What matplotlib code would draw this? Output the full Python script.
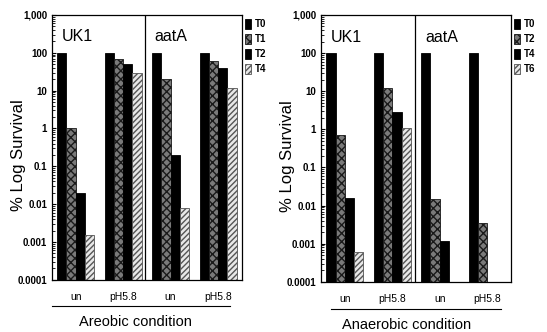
import numpy as np
import matplotlib.pyplot as plt
from matplotlib.lines import Line2D

plt.rcParams['font.family'] = ['Liberation Sans', 'DejaVu Sans']

groups = ['un', 'pH5.8', 'un', 'pH5.8']
strains = ['UK1', 'aatA']

# aerobic panel, times T0 T1 T2 T4
aer_labels = ['T0', 'T1', 'T2', 'T4']
aer_T0 = [100, 100, 100, 100]
aer_T1 = [1, 70, 20, 60]
aer_T2 = [0.02, 50, 0.2, 40]
aer_T4 = [0.0015, 30, 0.008, 12]

# anaerobic panel, times T0 T2 T4 T6 (nan = no bar)
ana_labels = ['T0', 'T2', 'T4', 'T6']
ana_T0 = [100, 100, 100, 100]
ana_T2 = [0.7, 12, 0.015, 0.0035]
ana_T4 = [0.016, 2.8, 0.0012, np.nan]
ana_T6 = [0.0006, 1.1, np.nan, np.nan]

yticks = [0.0001, 0.001, 0.01, 0.1, 1, 10, 100, 1000]
yticklabels = ['0.0001', '0.001', '0.01', '0.1', '1', '10', '100', '1,000']

styles = [
    dict(facecolor='black', edgecolor='black', hatch=None),
    dict(facecolor='#7a7a7a', edgecolor='#1a1a1a', hatch='xxxx'),
    dict(facecolor='black', edgecolor='black', hatch=None),
    dict(facecolor='#e8e8e8', edgecolor='#555555', hatch='//////'),
]

fig = plt.figure(figsize=(5.47, 3.32), dpi=100)
ax1 = fig.add_axes([0.095, 0.157, 0.347, 0.798])
ax2 = fig.add_axes([0.587, 0.151, 0.347, 0.804])


def panel(ax, series, labels, title, line_x, aat_x, title_x):
    x = np.arange(len(groups))
    w = 0.195
    handles = []
    for i, vals in enumerate(series):
        st = styles[i]
        vals = np.array(vals, dtype=float)
        heights = np.where(np.isnan(vals), 0, vals - 0.0001)
        b = ax.bar(x + (i - 1.5) * w, heights, w, bottom=0.0001,
                   facecolor=st['facecolor'], edgecolor=st['edgecolor'],
                   hatch=st['hatch'], linewidth=0.6)
        for r, v in zip(b, vals):
            if np.isnan(v):
                r.set_visible(False)
        handles.append(b)
    ax.set_yscale('log')
    ax.set_ylim(0.0001, 1000)
    ax.set_xlim(-0.5, 3.5)
    ax.set_yticks(yticks)
    ax.set_yticklabels(yticklabels, fontsize=7, fontweight='bold')
    ax.tick_params(axis='y', which='major', direction='in', length=3, width=0.8)
    ax.tick_params(axis='y', which='minor', direction='in', length=2, width=0.6)
    ax.set_xticks(x)
    ax.set_xticklabels(groups, fontsize=7.5)
    ax.tick_params(axis='x', length=0, pad=9)
    ax.axvline(1.47, color='black', linewidth=0.9)
    ax.text(0.05, 0.9, strains[0], transform=ax.transAxes, fontsize=11.5)
    ax.text(aat_x, 0.9, strains[1], transform=ax.transAxes, fontsize=11.5)
    ax.set_ylabel('% Log Survival', fontsize=12)
    ax.yaxis.set_label_coords(-0.135, 0.47)
    for s in ax.spines.values():
        s.set_linewidth(0.9)
    ax.add_line(Line2D(line_x, [-0.1, -0.1], transform=ax.transAxes,
                       color='black', linewidth=0.8, clip_on=False))
    ax.text(title_x, -0.16, title, transform=ax.transAxes, ha='center',
            va='center', fontsize=10.5)
    leg = ax.legend(handles, labels, loc='upper left', bbox_to_anchor=(0.995, 1.0),
                    frameon=False, fontsize=7, handlelength=0.6, handleheight=1.3,
                    handletextpad=0.4, labelspacing=0.45, borderaxespad=0.0)
    for t in leg.get_texts():
        t.set_fontweight('bold')


panel(ax1, [aer_T0, aer_T1, aer_T2, aer_T4], aer_labels, 'Areobic condition',
      [0.0, 0.94], 0.54, 0.44)
panel(ax2, [ana_T0, ana_T2, ana_T4, ana_T6], ana_labels, 'Anaerobic condition',
      [0.05, 0.95], 0.55, 0.45)

fig.savefig('out.png', dpi=100)
